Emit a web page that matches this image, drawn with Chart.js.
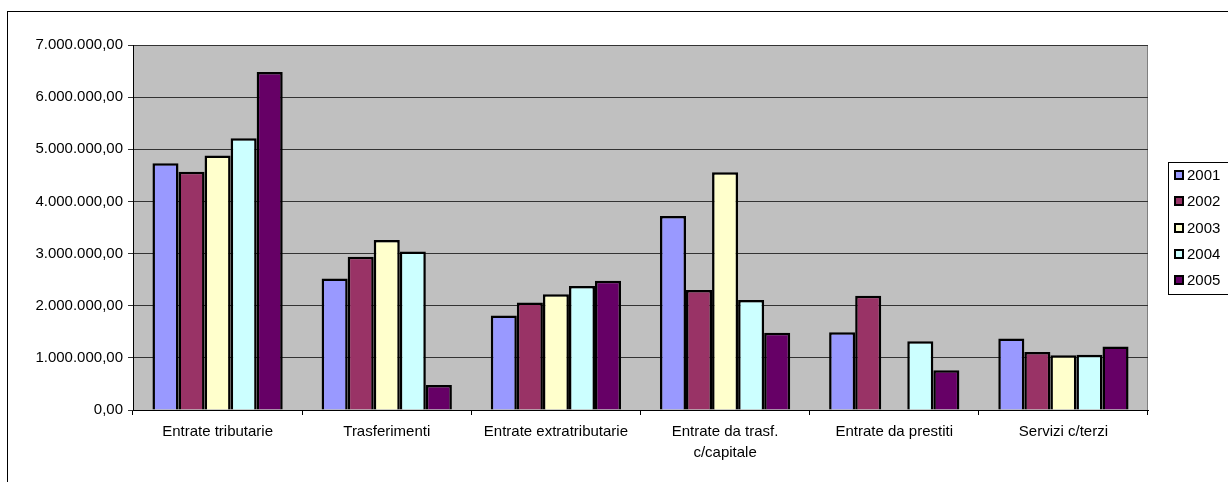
<!DOCTYPE html>
<html><head><meta charset="utf-8">
<script src="https://cdn.jsdelivr.net/npm/chart.js@4/dist/chart.umd.min.js"></script>
<style>html,body{margin:0;padding:0;background:#fff;}#wrap{position:relative;width:1228px;height:482px;}</style>
</head><body><div id="wrap"><canvas id="c" width="1228" height="482"></canvas></div>
<script>
const categories = ["Entrate tributarie", "Trasferimenti", "Entrate extratributarie", ["Entrate da trasf.", "c/capitale"], "Entrate da prestiti", "Servizi c/terzi"];
const years = ["2001", "2002", "2003", "2004", "2005"];
const v2001 = [4730000, 2520000, 1810000, 3720000, 1490000, 1370000];
const v2002 = [4570000, 2940000, 2060000, 2300000, 2190000, 1110000];
const v2003 = [4880000, 3260000, 2220000, 4560000, 0, 1050000];
const v2004 = [5210000, 3040000, 2380000, 2110000, 1320000, 1060000];
const v2005 = [6480000, 480000, 2480000, 1480000, 760000, 1220000];
const colors = ["#9999FF", "#993366", "#FFFFCC", "#CCFFFF", "#660066"];
const FONT = "'Liberation Sans', Arial, sans-serif";

function fmt(v){
  const s = Math.round(v).toString().replace(/\B(?=(\d{3})+(?!\d))/g, ".");
  return s + ",00";
}

const series = [v2001, v2002, v2003, v2004, v2005];
const bg = {
  id: 'bg',
  beforeDraw(chart){
    const {ctx, chartArea:a} = chart;
    ctx.save();
    ctx.fillStyle = '#fff';
    ctx.fillRect(0,0,chart.width,chart.height);
    ctx.strokeStyle = '#000'; ctx.lineWidth = 1;
    ctx.strokeRect(7.5, 11.5, 1400, 600);
    ctx.fillStyle = '#C0C0C0';
    ctx.fillRect(a.left, a.top, a.right-a.left, a.bottom-a.top);
    ctx.strokeStyle = '#808080';
    ctx.beginPath();
    ctx.moveTo(a.left, a.top+0.5); ctx.lineTo(a.right-0.5, a.top+0.5); ctx.lineTo(a.right-0.5, a.bottom);
    ctx.stroke();
    ctx.restore();
  },
  afterDraw(chart){
    const ctx = chart.ctx;
    ctx.save();
    ctx.strokeStyle = '#000'; ctx.lineWidth = 1;
    ctx.strokeRect(1168.5, 162.5, 60, 132);
    const ys = [175, 201, 228, 254, 280];
    ctx.font = "15px " + FONT;
    ctx.textBaseline = 'middle';
    chart.data.datasets.forEach((ds, i) => {
      ctx.fillStyle = ds.backgroundColor;
      ctx.fillRect(1174, ys[i]-5, 10, 10);
      ctx.lineWidth = 2;
      ctx.strokeStyle = '#000';
      ctx.strokeRect(1175, ys[i]-4, 8, 8);
      ctx.fillStyle = '#000';
      ctx.fillText(ds.label, 1187, ys[i]+1);
    });
    ctx.restore();
  }
};

new Chart(document.getElementById('c'), {
  type: 'bar',
  data: {
    labels: categories,
    datasets: years.map((y, i) => ({
      label: y,
      data: series[i],
      backgroundColor: colors[i],
      borderColor: '#000',
      borderWidth: 2.5,
      categoryPercentage: 0.77,
      barPercentage: 1.0
    }))
  },
  options: {
    responsive: false,
    animation: false,
    devicePixelRatio: 1,
    layout: { padding: { left: 0, top: 45, right: 80, bottom: 0 } },
    plugins: { legend: { display: false }, tooltip: { enabled: false } },
    scales: {
      x: {
        afterFit(s){ s.height = 72; },
        grid: { display: true, drawOnChartArea: false, drawTicks: true, tickLength: 5, color: '#000', offset: true },
        border: { display: true, color: '#000', width: 1 },
        ticks: { color: '#000', font: { family: FONT, size: 15, lineHeight: 1.35 }, padding: 7, maxRotation: 0, autoSkip: false }
      },
      y: {
        min: 0, max: 7000000,
        afterFit(s){ s.width = 133; },
        grid: { display: true, drawOnChartArea: true, drawTicks: true, tickLength: 5, color: '#333' },
        border: { display: true, color: '#000', width: 1 },
        ticks: { stepSize: 1000000, color: '#000', font: { family: FONT, size: 15 }, padding: 5, callback: v => fmt(v) }
      }
    }
  },
  plugins: [bg]
});
</script></body></html>
